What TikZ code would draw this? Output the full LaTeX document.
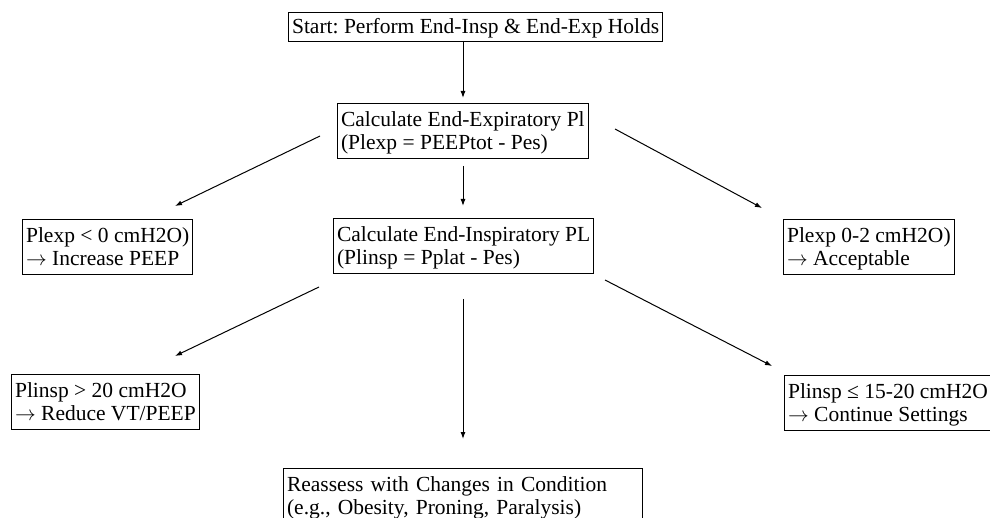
\documentclass[tikz,border=0pt]{standalone}
\usepackage{fontspec}
\setmainfont{Liberation Serif}
\usetikzlibrary{arrows.meta}
\newcommand\tstr{\rule{0pt}{22pt}}
\newcommand\bstr{\rule[-8pt]{0pt}{8pt}}
\newcommand\rarr{$\rightarrow$}
\begin{document}
\begin{tikzpicture}[x=1pt,y=-1pt,
  box/.style={draw, line width=1.1pt, anchor=north west, align=left, inner xsep=3.5pt, inner ysep=1pt,
    font=\fontsize{21.5}{23}\selectfont\frenchspacing},
  conn/.style={line width=1pt, -{Latex[length=7pt,width=5pt]}}]
\useasboundingbox (0,0) rectangle (990,518);
\node[box] (start) at (288,12) {\rule{0pt}{20pt}Start: Perform End-Insp \& End-Exp Holds\rule[-7pt]{0pt}{7pt}};
\node[box] (cexp) at (337,103) {\tstr Calculate End-Expiratory Pl\\(Plexp = PEEPtot - Pes)\bstr};
\node[box] (low) at (22,219) {\tstr Plexp < 0 cmH2O)\\\rarr{} Increase PEEP\bstr};
\node[box] (cinsp) at (333,218) {\tstr Calculate End-Inspiratory PL\\(Plinsp = Pplat - Pes)\bstr};
\node[box] (ok) at (783,219) {\tstr Plexp 0-2 cmH2O)\\\rarr{} Acceptable\bstr};
\node[box] (high) at (11,374) {\tstr Plinsp > 20 cmH2O\\\rarr{} Reduce VT/PEEP\bstr};
\node[box] (cont) at (784,375) {\tstr Plinsp ≤ 15-20 cmH2O\\\rarr{} Continue Settings\bstr};
\node[box, text width=352pt] (re) at (283,468) {\tstr Reassess with Changes in Condition\\(e.g., Obesity, Proning, Paralysis)\bstr};
\coordinate (s0) at (463,41);
\coordinate (e1) at (463,98);
\coordinate (a0) at (320,136);
\coordinate (a1) at (175,206);
\coordinate (b0) at (463,166);
\coordinate (b1) at (463,206);
\coordinate (c0) at (615,129);
\coordinate (c1) at (762,208);
\coordinate (d0) at (319,287);
\coordinate (d1) at (175,356);
\coordinate (m0) at (463,299);
\coordinate (m1) at (463,439);
\coordinate (f0) at (605,280);
\coordinate (f1) at (772,366);
\draw[conn] (s0) -- (e1);
\draw[conn] (a0) -- (a1);
\draw[conn] (b0) -- (b1);
\draw[conn] (c0) -- (c1);
\draw[conn] (d0) -- (d1);
\draw[conn] (m0) -- (m1);
\draw[conn] (f0) -- (f1);
\end{tikzpicture}
\end{document}
